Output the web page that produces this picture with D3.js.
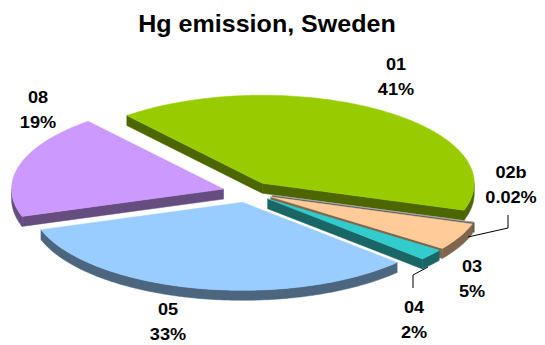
<!DOCTYPE html>
<html>
<head>
<meta charset="utf-8">
<script src="https://cdn.jsdelivr.net/npm/d3@7"></script>
<style>
  body { margin: 0; background: #fff; }
  text { font-family: "Liberation Sans", Arial, sans-serif; font-weight: bold; fill: #000; }
</style>
</head>
<body>
<script>
// ---------------------------------------- data ----------------------------------------//
var categories = ["01", "02b", "03", "04", "05", "08"];
var values = [41, 0.02, 5, 2, 33, 19];
var percentLabels = ["41%", "0.02%", "5%", "2%", "33%", "19%"];
var topColors = ["#99CC00", "#B0B0B0", "#FFCC99", "#33CCCC", "#99CCFF", "#CC99FF"];

// label layout: centre x, first baseline
var labelPos = [[396, 70], [511, 178], [472, 272], [414, 313], [168, 315], [38, 103]];
// leader lines (only for the thin slices)
var leaders = [
  [[468, 237], [508, 228], [508, 215]],
  [[428, 267], [413, 275], [413, 288]]
];

var width = 545,
  height = 345;

// 3d pie geometry
var cx = 248, cy = 192, rx = 212, ry = 88, depth = 10, explode = 0.12;
var startDeg = -39.7;

var svg = d3.select("body").append("svg")
  .attr("width", width)
  .attr("height", height);

var pie = d3.pie()
  .sort(null)
  .value(function (d) { return d; })
  .startAngle(startDeg * Math.PI / 180)
  .endAngle(startDeg * Math.PI / 180 + 2 * Math.PI);

var arcs = pie(values);
arcs.forEach(function (d, i) {
  d.i = i;
  d.mid = (d.startAngle + d.endAngle) / 2;
  d.ox = cx + explode * rx * Math.sin(d.mid);
  d.oy = cy - explode * ry * Math.cos(d.mid);
});

function proj(d, a, dy) {
  return [d.ox + rx * Math.sin(a), d.oy - ry * Math.cos(a) + (dy || 0)];
}

function arcPts(d, a0, a1, dy) {
  var n = Math.max(2, Math.ceil((a1 - a0) / (Math.PI / 180)) + 1);
  var pts = [];
  for (var k = 0; k < n; k++) {
    pts.push(proj(d, a0 + (a1 - a0) * k / (n - 1), dy));
  }
  return pts;
}

var line = d3.line();

// back to front
var order = arcs.slice().sort(function (a, b) {
  return -Math.cos(a.mid) - -Math.cos(b.mid);
});

var g = svg.append("g");

order.forEach(function (d) {
  var top = topColors[d.i];
  var c = d3.rgb(top);
  var side = d3.rgb(c.r * 0.5, c.g * 0.5, c.b * 0.5).formatHex();
  var slice = g.append("g").attr("class", "slice");

  // outer rim, front half only
  var r0 = Math.max(d.startAngle, Math.PI / 2),
    r1 = Math.min(d.endAngle, Math.PI * 1.5);
  if (r1 > r0) {
    var upper = arcPts(d, r0, r1, 0);
    var lower = arcPts(d, r0, r1, depth).reverse();
    slice.append("path")
      .attr("d", line(upper.concat(lower)) + "Z")
      .attr("fill", side)
      .attr("stroke", side)
      .attr("stroke-width", 0.5);
  }

  // radial cut faces
  [[d.startAngle, Math.sin(d.startAngle) < 0], [d.endAngle, Math.sin(d.endAngle) > 0]]
    .forEach(function (e) {
      if (!e[1]) return;
      var p = proj(d, e[0], 0);
      var quad = [[d.ox, d.oy], p, [p[0], p[1] + depth], [d.ox, d.oy + depth]];
      slice.append("path")
        .attr("d", line(quad) + "Z")
        .attr("fill", side)
        .attr("stroke", side)
        .attr("stroke-width", 0.5);
    });

  // top face
  var face = [[d.ox, d.oy]].concat(arcPts(d, d.startAngle, d.endAngle, 0));
  slice.append("path")
    .attr("d", line(face) + "Z")
    .attr("fill", top)
    .attr("stroke", top)
    .attr("stroke-width", 0.5);
});

// leader lines
svg.selectAll(".leader")
  .data(leaders)
  .enter()
  .append("path")
  .attr("class", "leader")
  .attr("d", function (d) { return line(d); })
  .attr("fill", "none")
  .attr("stroke", "#000")
  .attr("stroke-width", 1);

// labels
var lab = svg.selectAll(".label")
  .data(arcs)
  .enter()
  .append("text")
  .attr("class", "label")
  .attr("text-anchor", "middle")
  .attr("font-size", 16.5)
  .attr("transform", function (d) {
    var p = labelPos[d.i];
    return "translate(" + p[0] + "," + p[1] + ") scale(1.1,1)";
  });

lab.append("tspan")
  .attr("x", 0)
  .attr("y", 0)
  .text(function (d) { return categories[d.i]; });

lab.append("tspan")
  .attr("x", 0)
  .attr("y", 25)
  .text(function (d) { return percentLabels[d.i]; });

// title
svg.append("text")
  .attr("text-anchor", "middle")
  .attr("font-size", 23)
  .attr("transform", "translate(267,32) scale(1.09,1)")
  .text("Hg emission, Sweden");
</script>
</body>
</html>
